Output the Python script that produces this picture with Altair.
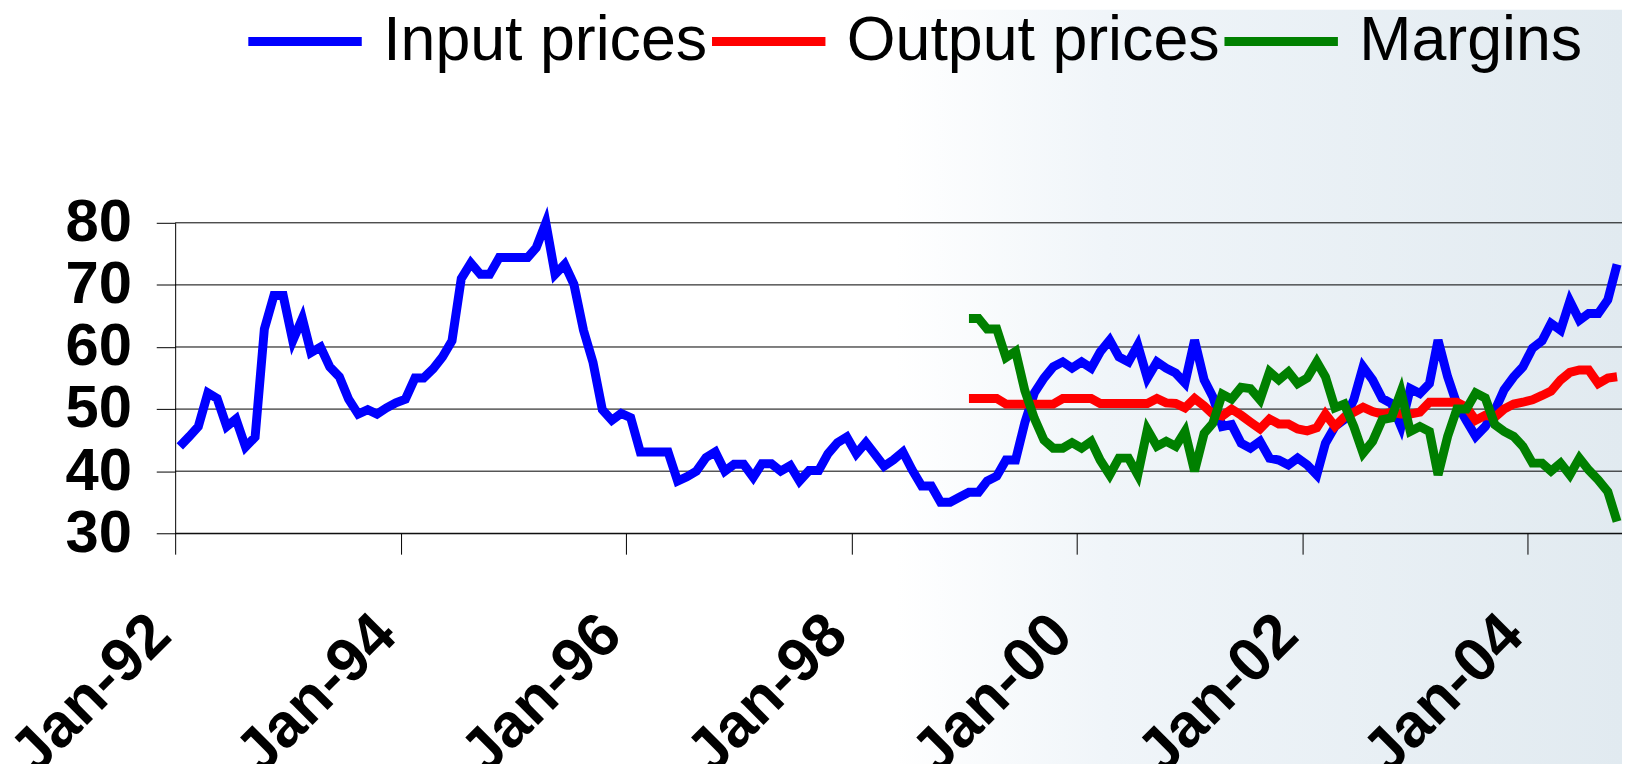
import altair as alt
import pandas as pd

# ---------------- data (monthly) ----------------
first_year = 1992
# Input prices: Jan-92 .. Oct-04
input_prices = [
    44.0, 45.6, 47.2, 52.6, 51.7, 47.2, 48.4, 43.9, 45.5, 62.9,
    68.3, 68.3, 61.0, 64.6, 59.1, 60.0, 56.8, 55.2, 51.6, 49.2,
    49.9, 49.2, 50.2, 51.0, 51.6, 55.0, 55.0, 56.5, 58.4, 61.0,
    71.0, 73.5, 71.7, 71.7, 74.4, 74.4, 74.4, 74.4, 76.0, 80.0,
    71.7, 73.3, 70.1, 62.7, 57.5, 49.9, 48.2, 49.3, 48.6, 43.1,
    43.1, 43.1, 43.1, 38.4, 39.1, 40.0, 42.2, 43.1, 40.0, 41.1,
    41.1, 39.0, 41.2, 41.2, 40.0, 40.9, 38.4, 40.1, 40.1, 42.8,
    44.6, 45.5, 42.8, 44.6, 42.8, 40.8, 41.8, 43.1, 40.2, 37.6,
    37.6, 35.0, 35.0, 35.8, 36.6, 36.6, 38.4, 39.2, 41.8, 41.8,
    47.8, 52.6, 55.0, 56.8, 57.6, 56.6, 57.6, 56.6, 59.2, 61.1,
    58.4, 57.6, 60.3, 55.0, 57.6, 56.6, 55.8, 54.2, 61.1, 54.7,
    52.0, 47.2, 47.5, 44.5, 43.7, 44.8, 42.1, 41.8, 41.0, 42.1,
    41.0, 39.4, 44.5, 47.2, 48.3, 51.5, 56.8, 54.7, 51.7, 50.9,
    47.2, 53.3, 52.5, 54.1, 61.1, 55.2, 50.8, 48.1, 45.6, 47.2,
    49.8, 53.1, 55.2, 56.8, 59.8, 61.0, 63.8, 62.7, 67.4, 64.3,
    65.4, 65.4, 67.6, 73.3,
]
# Output prices and margins start Jan-99 (month index 84)
later_start = 84
output_prices = [
    51.7, 51.7, 51.7, 51.7, 50.8, 50.8, 50.8, 50.8, 50.8, 50.8,
    51.7, 51.7, 51.7, 51.7, 50.9, 50.9, 50.9, 50.9, 50.9, 50.9,
    51.7, 51.0, 50.9, 50.2, 51.7, 50.5, 49.2, 48.9, 50.0, 49.0,
    47.9, 46.8, 48.4, 47.6, 47.6, 46.8, 46.5, 47.0, 49.2, 47.2,
    48.7, 49.5, 50.3, 49.6, 49.2, 49.5, 49.2, 49.2, 49.5, 51.1,
    51.1, 51.1, 51.1, 50.3, 48.2, 49.0, 48.7, 50.0, 50.8, 51.1,
    51.5, 52.2, 52.9, 54.7, 55.9, 56.3, 56.3, 54.1, 55.0, 55.2,
]
margins = [
    64.6, 64.6, 62.9, 62.9, 58.3, 59.3, 53.0, 48.5, 45.0, 43.7,
    43.7, 44.6, 43.7, 44.8, 41.8, 39.4, 42.1, 42.1, 39.4, 46.7,
    44.0, 44.8, 44.0, 46.4, 40.0, 46.1, 47.7, 52.4, 51.6, 53.5,
    53.3, 51.5, 56.0, 54.7, 56.0, 54.1, 55.0, 57.6, 55.2, 50.2,
    50.8, 47.2, 42.9, 44.8, 48.3, 48.6, 52.8, 46.4, 47.2, 46.4,
    39.4, 45.6, 50.0, 50.0, 52.6, 51.8, 47.5, 46.4, 45.6, 44.0,
    41.3, 41.3, 40.0, 41.3, 39.4, 42.1, 40.2, 38.6, 36.7, 31.9,
]
series_names = ["Input prices", "Output prices", "Margins"]
series_colors = ["#0000ff", "#ff0000", "#008000"]
tick_years = [1992, 1994, 1996, 1998, 2000, 2002, 2004]
y_ticks = [30, 40, 50, 60, 70, 80]


def month_date(idx):
    y = first_year + idx // 12
    m = idx % 12 + 1
    return f"{y}-{m:02d}-16"


rows = []
for k, v in enumerate(input_prices):
    rows.append({"date": month_date(k), "value": v, "series": series_names[0]})
for k, v in enumerate(output_prices):
    rows.append({"date": month_date(later_start + k), "value": v, "series": series_names[1]})
for k, v in enumerate(margins):
    rows.append({"date": month_date(later_start + k), "value": v, "series": series_names[2]})
df = pd.DataFrame(rows)
grid_df = pd.DataFrame({"value": y_ticks})

FONT = "Liberation Sans"

x_scale = alt.Scale(
    type="utc",
    domain=[alt.DateTime(year=1992, month=1, date=1, utc=True),
            alt.DateTime(year=2004, month=11, date=1, utc=True)],
)
y_scale = alt.Scale(domain=[30, 80], nice=False, zero=False)

x_axis = alt.Axis(
    values=[alt.DateTime(year=y, month=1, date=1, utc=True) for y in tick_years],
    labelExpr="utcFormat(datum.value, '%b-%y')", title=None, grid=False,
    labelAngle=-45, labelAlign="right", labelBaseline="alphabetic",
    labelFont=FONT, labelFontSize=62, labelFontWeight="bold", labelColor="black",
    labelPadding=84, labelOffset=-2, labelFlush=False, labelBound=False, labelOverlap=False,
    labelLimit=1000,
    tickSize=21, tickColor="black", tickWidth=1, domainColor="black", domainWidth=1,
    zindex=1,
)
y_axis = alt.Axis(
    values=y_ticks, title=None, grid=False,
    labelFont=FONT, labelFontSize=60, labelFontWeight="bold", labelColor="black",
    labelPadding=25, tickSize=19, tickColor="black", tickWidth=1,
    domainColor="black", domainWidth=1, labelFlush=False, labelBound=False,
    labelOverlap=False, labelLimit=1000, zindex=1,
)

background = alt.Chart(pd.DataFrame({"a": [0]})).mark_rect(
    color=alt.Gradient(
        gradient="linear",
        stops=[
            alt.GradientStop(offset=0, color="#ffffff"),
            alt.GradientStop(offset=0.55, color="#ffffff"),
            alt.GradientStop(offset=0.68, color="#f0f5f9"),
            alt.GradientStop(offset=1, color="#e1eaf0"),
        ],
        x1=0, x2=1, y1=0, y2=0,
    )
).encode(x=alt.value(-168), x2=alt.value(1454), y=alt.value(-214), y2=alt.value(545))

grid = alt.Chart(grid_df).mark_rule(color="black", strokeWidth=1).encode(
    y=alt.Y("value:Q", scale=y_scale, axis=y_axis)
)

lines = alt.Chart(df).mark_line(strokeWidth=9).encode(
    x=alt.X("date:T", scale=x_scale, axis=x_axis),
    y=alt.Y("value:Q", scale=y_scale, axis=y_axis),
    color=alt.Color(
        "series:N",
        scale=alt.Scale(domain=series_names, range=series_colors),
        legend=alt.Legend(
            title=None, orient="none", legendX=69, legendY=-244,
            direction="horizontal", symbolType="stroke", symbolSize=12996,
            symbolStrokeWidth=9, labelFont=FONT, labelFontSize=63,
            labelColor="black", labelOffset=17, columnPadding=-23,
            labelLimit=1000, padding=0,
        ),
    ),
)

chart = alt.layer(background, grid, lines).properties(
    width=1454, height=312,
    autosize=alt.AutoSizeParams(type="none"),
    padding={"left": 168, "top": 214, "right": 0, "bottom": 230},
).configure_view(stroke=None)

chart.save("out.html", embed_options={"renderer": "svg", "actions": False})
